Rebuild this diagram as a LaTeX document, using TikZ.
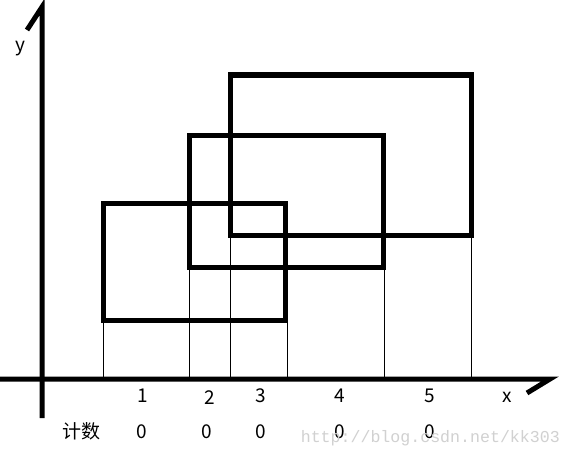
\documentclass[tikz,border=0pt]{standalone}
\usepackage{fontspec}
\setmainfont{Noto Sans CJK SC}
\newfontfamily\wmfont{Liberation Mono}
\begin{document}
\begin{tikzpicture}[x=1pt,y=-1pt,
  thick line/.style={line width=5pt},
  thin line/.style={line width=0.9pt},
  lbl/.style={font=\fontsize{19}{20}\selectfont, inner sep=0pt, anchor=center},
  wm/.style={font=\wmfont\fontsize{16.6}{18}\selectfont, text=black!18, inner sep=0pt, anchor=east}]
\useasboundingbox[fill=white] (0,0) rectangle (562,452);
% axes
\draw[thick line, line join=miter] (0,379) -- (550,379) -- (527,393);
\draw[thick line, line join=miter] (27,30) -- (42,7) -- (42,418);
% rectangles
\draw[thick line] (103,203) rectangle (285,320);
\draw[thick line] (189.5,135) rectangle (383,267);
\draw[thick line] (230,75) rectangle (471,235);
% projection lines
\coordinate (p1) at (103,322);
\coordinate (p2) at (189.5,269);
\coordinate (p3) at (230,237);
\coordinate (p4) at (287,322);
\coordinate (p5) at (384,269);
\coordinate (p6) at (471,237);
\foreach \i in {1,...,6} {
  \coordinate (q\i) at (p\i |- 0,377);
  \draw[thin line] (p\i) -- (q\i);
}
% labels
\node[lbl] (ly) at (20,49) {y};
\node[lbl] (lx) at (507,397) {x};
\node[lbl] (n1) at (143,396) {1};
\node[lbl] (n2) at (210,398) {2};
\node[lbl] (n3) at (261,396) {3};
\node[lbl] (n4) at (340,396) {4};
\node[lbl] (n5) at (430,396) {5};
\node[lbl] (cnt) at (81,431) {计数};
\node[lbl] (c1) at (142,432) {0};
\node[lbl] (c2) at (207,432) {0};
\node[lbl] (c3) at (261,432) {0};
\node[lbl] (c4) at (340,432) {0};
\node[lbl] (c5) at (430,432) {0};
\node[wm] (wmk) at (560,438) {http://blog.csdn.net/kk303};
\end{tikzpicture}
\end{document}
